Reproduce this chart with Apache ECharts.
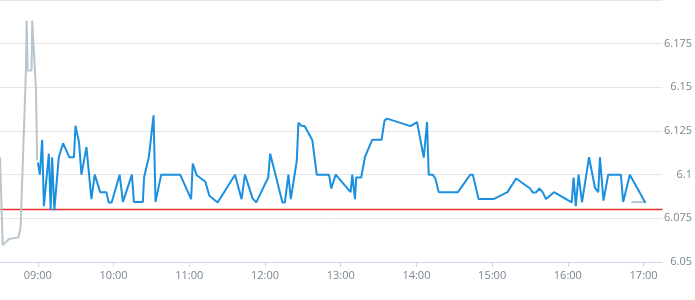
<!DOCTYPE html>
<html>
<head>
<meta charset="utf-8">
<script src="https://cdn.jsdelivr.net/npm/echarts@6/dist/echarts.min.js"></script>
<style>
html,body{margin:0;padding:0;background:#fff;}
#chart{width:695px;height:300px;}
</style>
</head>
<body>
<div id="chart"></div>
<script>
// Pre-market (grey)
var preTimes = ["08:30:00","08:32:08","08:37:07","08:44:37","08:46:21","08:50:33","08:51:06","08:51:53","08:51:54","08:55:00","08:55:31","08:56:18","08:58:26","08:59:28"];
var preValues = [6.110,6.0597,6.0631,6.0641,6.070,6.1596,6.1882,6.1882,6.1596,6.1596,6.1882,6.1882,6.1499,6.1082];

// Trading session (blue)
var dayTimes = ["09:00:00","09:01:36","09:02:10","09:03:25","09:04:46","09:06:06","09:08:43","09:10:08","09:11:19","09:13:04",
"09:14:00","09:16:36","09:20:00","09:24:55","09:28:37","09:29:49","09:32:39","09:34:33","09:38:30","09:42:27",
"09:45:04","09:49:24","09:54:18","09:56:07","09:58:29","10:04:48","10:07:25","10:14:32","10:16:07","10:23:13",
"10:24:10","10:26:23","10:27:58","10:29:04","10:31:41","10:33:15","10:37:45","10:52:46","11:01:28","11:02:44",
"11:05:53","11:12:45","11:15:55","11:22:29","11:36:13","11:41:26","11:44:07","11:50:08","11:53:03","12:02:32",
"12:04:07","12:13:50","12:15:44","12:18:34","12:20:28","12:25:13","12:26:29","12:28:23","12:31:32","12:37:32",
"12:41:00","12:50:43","12:52:32","12:56:00","13:07:52","13:09:09","13:11:17","13:12:18","13:16:15","13:19:10",
"13:25:00","13:32:23","13:34:44","13:36:48","13:55:17","14:00:30","14:05:48","14:08:24","14:09:44","14:12:54",
"14:15:00","14:17:38","14:32:53","14:42:40","14:44:44","14:49:14","15:01:05","15:12:10","15:19:00","15:30:06",
"15:32:10","15:34:50","15:37:26","15:40:00","15:42:44","15:49:04","16:03:00","16:04:35","16:06:18","16:08:30",
"16:11:12","16:16:48","16:21:29","16:24:05","16:25:25","16:28:14","16:32:00","16:42:00","16:43:50","16:49:07",
"17:01:26"];
var dayValues = [6.107,6.100,6.100,6.120,6.082,6.082,6.112,6.080,6.110,6.0797,
6.0797,6.110,6.118,6.110,6.110,6.128,6.1185,6.100,6.1158,6.086,
6.100,6.090,6.090,6.0841,6.0841,6.100,6.0844,6.100,6.0844,6.0844,
6.0984,6.1054,6.110,6.110,6.134,6.0844,6.100,6.100,6.086,6.1064,
6.0997,6.0959,6.0879,6.0841,6.100,6.086,6.100,6.0864,6.0841,6.0984,
6.112,6.0841,6.0841,6.100,6.086,6.1082,6.1298,6.1282,6.1277,6.1197,
6.100,6.100,6.0921,6.100,6.090,6.100,6.086,6.0984,6.0984,6.110,
6.120,6.120,6.1311,6.1321,6.1278,6.1301,6.1098,6.1301,6.100,6.100,
6.0978,6.090,6.090,6.100,6.100,6.086,6.086,6.090,6.0978,6.0921,
6.0898,6.0898,6.0921,6.090,6.086,6.090,6.0841,6.0983,6.082,6.100,
6.0841,6.110,6.0924,6.090,6.110,6.0851,6.100,6.100,6.0844,6.100,
6.0839];

// After-hours (grey)
var postTimes = ["16:50:22","17:01:26"];
var postValues = [6.0843,6.0843];

var prevClose = 6.08;
var xMin = "08:30", xMax = "17:15";
var xTickLabels = ["09:00","10:00","11:00","12:00","13:00","14:00","15:00","16:00","17:00"];
var yTicks = [6.05,6.075,6.1,6.125,6.15,6.175];

function toMin(s){var p=s.split(":");return (+p[0])*60+(+p[1])+(p[2]?(+p[2])/60:0);}
function pairs(t,v){return t.map(function(s,i){return [toMin(s),v[i]];});}
function fmt(m){var h=Math.floor(m/60),mm=Math.round(m%60);return (h<10?"0":"")+h+":"+(mm<10?"0":"")+mm;}

var tickVals = xTickLabels.map(toMin);
var labelColor = "#7b8691";
var chart = echarts.init(document.getElementById("chart"), null, {renderer:"canvas"});
chart.setOption({
  animation:false,
  grid:{left:0,right:30.5,top:-2,bottom:38,containLabel:false},
  xAxis:{
    type:"value", min:toMin(xMin), max:toMin(xMax),
    axisLine:{show:true,lineStyle:{color:"#ccd6eb",width:1}},
    axisTick:{show:true,length:5,lineStyle:{color:"#ccd6eb"},customValues:tickVals},
    axisLabel:{customValues:tickVals,formatter:function(v){return fmt(v);},color:labelColor,fontSize:11,fontFamily:"Open Sans",margin:8},
    splitLine:{show:false}
  },
  yAxis:{
    type:"value", position:"right", min:6.05, max:6.2, interval:0.025,
    axisLine:{show:false}, axisTick:{show:false},
    axisLabel:{showMaxLabel:false,align:"right",margin:29.5,color:labelColor,fontSize:11,fontFamily:"Open Sans",
      formatter:function(v){return String(+v.toFixed(3));}},
    splitLine:{show:true,lineStyle:{color:"#e6e6e6",width:1}}
  },
  series:[
    {type:"line",data:[[toMin(xMin),prevClose],[toMin(xMax),prevClose]],showSymbol:false,symbol:"none",silent:true,
      lineStyle:{color:"#e8322e",width:1.5},z:1},
    {type:"line",data:pairs(preTimes,preValues),showSymbol:false,symbol:"none",lineStyle:{color:"#b9c5ce",width:2},z:2},
    {type:"line",data:pairs(postTimes,postValues),showSymbol:false,symbol:"none",lineStyle:{color:"#b9c5ce",width:2},z:2},
    {type:"line",data:pairs(dayTimes,dayValues),showSymbol:false,symbol:"none",lineStyle:{color:"#1b8fe0",width:2},z:3}
  ]
});
</script>
</body>
</html>
